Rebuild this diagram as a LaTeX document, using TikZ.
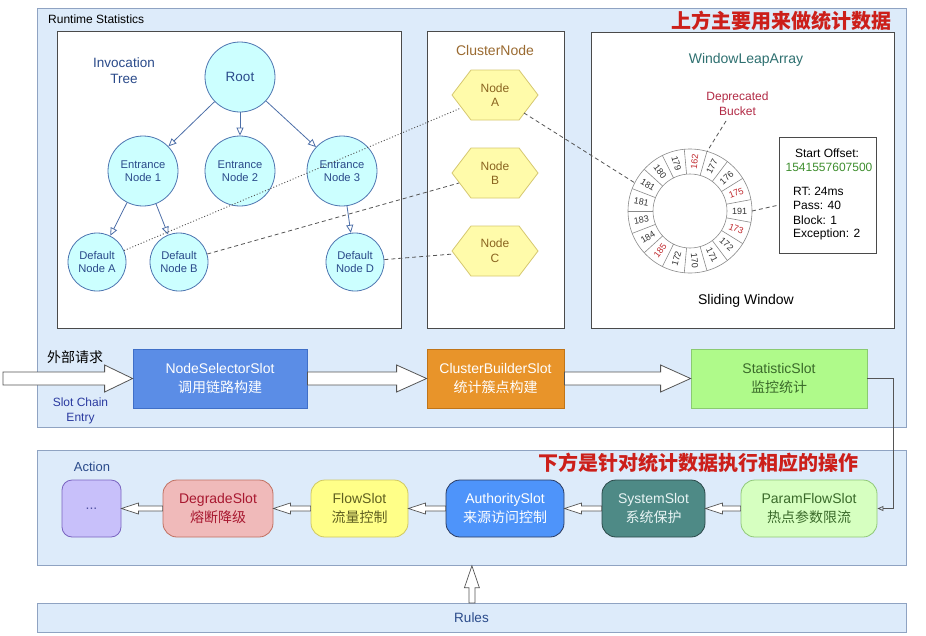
\documentclass[tikz,border=0pt]{standalone}
\usepackage{fontspec}
\setmainfont{Liberation Sans}
\newfontfamily\cjk{Noto Sans CJK SC}
\usetikzlibrary{arrows.meta,calc}
\newcommand\fs[2]{\fontsize{#1}{#2}\selectfont}
\definecolor{panelfill}{HTML}{DDEBFA}
\definecolor{panelstroke}{HTML}{8FA3C2}
\definecolor{boxstroke}{HTML}{4A4A4A}
\definecolor{treefill}{HTML}{CCFFFF}
\definecolor{treestroke}{HTML}{4D74B0}
\definecolor{treefg}{HTML}{2A4A8A}
\definecolor{treearrowc}{HTML}{4D6FA8}
\definecolor{hexfill}{HTML}{FFFBAA}
\definecolor{hexstroke}{HTML}{D6C870}
\definecolor{hexfg}{HTML}{8A6420}
\definecolor{clusterfg}{HTML}{9A6A30}
\definecolor{windowfg}{HTML}{2E7070}
\definecolor{depred}{HTML}{B22A45}
\definecolor{infogreen}{HTML}{3E8E2E}
\definecolor{ringred}{HTML}{C0282D}
\definecolor{ringblack}{HTML}{333333}
\definecolor{ringline}{HTML}{8A8A8A}
\definecolor{connc}{HTML}{555555}
\definecolor{headred}{HTML}{CC1F1A}
\definecolor{nssfill}{HTML}{5B8DE6}
\definecolor{nssstroke}{HTML}{3F6FC8}
\definecolor{cbsfill}{HTML}{E8942A}
\definecolor{cbsstroke}{HTML}{C07418}
\definecolor{stsfill}{HTML}{AFFA8A}
\definecolor{stsstroke}{HTML}{8ACB70}
\definecolor{greenfg}{HTML}{3A6A2A}
\definecolor{dotsfill}{HTML}{C8C0FA}
\definecolor{dotsstroke}{HTML}{7A64C0}
\definecolor{dotsfg}{HTML}{5050A0}
\definecolor{degfill}{HTML}{F0BABA}
\definecolor{degstroke}{HTML}{C07060}
\definecolor{degfg}{HTML}{A81830}
\definecolor{flowfill}{HTML}{FFFF88}
\definecolor{flowstroke}{HTML}{D0C860}
\definecolor{flowfg}{HTML}{606020}
\definecolor{authfill}{HTML}{4E94FA}
\definecolor{authstroke}{HTML}{2A3A60}
\definecolor{sysfill}{HTML}{4E8A86}
\definecolor{sysstroke}{HTML}{2A4848}
\definecolor{sysfg}{HTML}{E8F4F4}
\definecolor{pfsfill}{HTML}{D6FFC0}
\definecolor{pfsstroke}{HTML}{90C878}
\definecolor{bluefg}{HTML}{2A3AA0}
\newcommand\hollowR[6]{\draw[#6] let \p1=(#1), \p2=(#2) in
  (\x1,\y1+#3) -- (\x2-#5,\y1+#3) -- (\x2-#5,\y1+#4) -- (\x2,\y1) --
  (\x2-#5,\y1-#4) -- (\x2-#5,\y1-#3) -- (\x1,\y1-#3) -- cycle;}
\newcommand\hollowL[6]{\draw[#6] let \p1=(#1), \p2=(#2) in
  (\x1,\y1+#3) -- (\x2+#5,\y1+#3) -- (\x2+#5,\y1+#4) -- (\x2,\y1) --
  (\x2+#5,\y1-#4) -- (\x2+#5,\y1-#3) -- (\x1,\y1-#3) -- cycle;}
\newcommand\hollowU[6]{\draw[#6] let \p1=(#1), \p2=(#2) in
  (\x1+#3,\y1) -- (\x1+#3,\y2-#5) -- (\x1+#4,\y2-#5) -- (\x1,\y2) --
  (\x1-#4,\y2-#5) -- (\x1-#3,\y2-#5) -- (\x1-#3,\y1) -- cycle;}
\newcommand\hexat[1]{\draw[hexshape] ($(#1)+(-43,0)$) -- ($(#1)+(-24,-25)$) -- ($(#1)+(24,-25)$)
  -- ($(#1)+(43,0)$) -- ($(#1)+(24,25)$) -- ($(#1)+(-24,25)$) -- cycle;}
\tikzset{
  panel/.style={draw=panelstroke, fill=panelfill, line width=0.8pt, inner sep=0},
  wbox/.style={draw=boxstroke, fill=white, line width=0.8pt, inner sep=0},
  tnode/.style={circle, draw=treestroke, fill=treefill, line width=0.8pt, inner sep=0,
    text=treefg, align=center, font=\fs{11.2}{13.5}},
  tbig/.style={tnode, minimum size=70},
  tsmall/.style={tnode, minimum size=58},
  tarrow/.style={draw=treearrowc, line width=0.8pt, -{Triangle[open, length=8pt, width=7pt]}},
  hexshape/.style={draw=hexstroke, fill=hexfill, line width=0.8pt},
  hexlabel/.style={inner sep=0, text=hexfg, align=center, font=\fs{12}{14.6}},
  dashconn/.style={draw=connc, line width=0.8pt, dash pattern=on 4pt off 3pt},
  dotconn/.style={draw=connc, line width=0.9pt, dash pattern=on 1pt off 2pt},
  ringstroke/.style={draw=ringline, line width=0.6pt},
  ringlab/.style={inner sep=0, font=\fs{9}{10}},
  slotbox/.style={draw, line width=0.8pt, inner sep=0, align=center, font=\fs{14}{19}},
  rslot/.style={slotbox, rounded corners=14pt, minimum height=57},
  bigarrow/.style={draw=connc, fill=white, line width=0.8pt},
  smallarrow/.style={draw=connc, fill=white, line width=0.7pt},
  plain/.style={inner sep=0},
}
\begin{document}
\begin{tikzpicture}[x=1pt,y=-1pt]
\useasboundingbox (0,0) rectangle (926,635);
\fill[white] (0,0) rectangle (926,635);

% panels
\node[panel, anchor=north west, minimum width=869, minimum height=419] (top) at (37,8) {};
\node[panel, anchor=north west, minimum width=869, minimum height=115] (bot) at (37,450) {};
\node[panel, anchor=north west, minimum width=869, minimum height=29] (rules) at (37,603) {};
\node[plain, text=treefg, font=\fs{13.5}{16}] (rulestxt) at (471.5,618) {Rules};

\node[plain, anchor=west, font=\fs{12}{14}] (rt) at (48,19) {Runtime Statistics};
\node[plain, anchor=east, text=headred, font=\cjk\bfseries\fs{20}{24}] (h1) at (892,21) {上方主要用来做统计数据};

% white boxes
\node[wbox, anchor=north west, minimum width=344, minimum height=297] (treebox) at (57,31) {};
\node[wbox, anchor=north west, minimum width=137, minimum height=297] (clbox) at (427,31) {};
\node[wbox, anchor=north west, minimum width=303, minimum height=296] (winbox) at (591,32) {};

% invocation tree
\node[plain, text=treefg, align=center, font=\fs{13.5}{16}] (invt) at (124,71) {Invocation\\Tree};
\node[tbig, font=\fs{13.5}{16}] (root) at (240,77) {Root};
\node[tbig] (e1) at (143,171) {Entrance\\Node 1};
\node[tbig] (e2) at (240,171) {Entrance\\Node 2};
\node[tbig] (e3) at (342,171) {Entrance\\Node 3};
\node[tsmall] (da) at (97,262) {Default\\Node A};
\node[tsmall] (db) at (179,262) {Default\\Node B};
\node[tsmall] (dd) at (355,262) {Default\\Node D};
\draw[tarrow] (root) -- (e1);
\draw[tarrow] (root) -- (e2);
\draw[tarrow] (root) -- (e3);
\draw[tarrow] (e1) -- (da);
\draw[tarrow] (e1) -- (db);
\draw[tarrow] (e3) -- (dd);

% cluster nodes
\node[plain, text=clusterfg, font=\fs{14}{16}] (cltitle) at (495,50) {ClusterNode};
\coordinate (hAc) at (495,95);
\coordinate (hBc) at (495,173);
\coordinate (hCc) at (495,251);
\hexat{hAc}
\hexat{hBc}
\hexat{hCc}
\node[hexlabel] (hA) at (hAc) {Node\\A};
\node[hexlabel] (hB) at (hBc) {Node\\B};
\node[hexlabel] (hC) at (hCc) {Node\\C};
\coordinate (hAin) at ($(hAc)+(-34,13)$);
\coordinate (hAout) at ($(hAc)+(29,18)$);
\coordinate (hBin) at ($(hBc)+(-36,10)$);
\coordinate (hCin) at ($(hCc)+(-42,3)$);

% window leap array
\node[plain, text=windowfg, font=\fs{14}{16}] (wla) at (746,60) {WindowLeapArray};
\node[plain, text=depred, align=center, font=\fs{12}{15}] (dep) at (737.5,103.5) {Deprecated\\Bucket};
\node[plain, font=\fs{14}{16}] (sw) at (746,301) {Sliding Window};
\coordinate (rc) at (690,211);
\draw[ringstroke] (rc) circle[radius=62];
\draw[ringstroke] (rc) circle[radius=37];
\foreach \k in {0,...,16} {
  \draw[ringstroke] ($(rc)+({(\k+0.5)*360/17}:37)$) -- ($(rc)+({(\k+0.5)*360/17}:62)$);
}
\foreach \lab/\col [count=\k from 0] in {191/ringblack,175/ringred,176/ringblack,177/ringblack,162/ringred,179/ringblack,180/ringblack,181/ringblack,181/ringblack,183/ringblack,184/ringblack,185/ringred,172/ringblack,170/ringblack,171/ringblack,172/ringblack,173/ringred} {
  \pgfmathsetmacro\ang{\k*360/17}
  \pgfmathsetmacro\rot{cos(\ang)>-0.001 ? \ang : \ang-180}
  \node[ringlab, text=\col, rotate=\rot] at ($(rc)+(-\ang:49.5)$) {\lab};
}
\coordinate (ringA) at ($(rc)+(-153:62)$);
\coordinate (ringR) at ($(rc)+(0:62)$);
\coordinate (ringT) at ($(rc)+(-74:62)$);
\coordinate (depend) at (726,121);

% info box
\node[wbox, anchor=north west, minimum width=97, minimum height=116] (info) at (779,137) {};
\node[plain, font=\fs{12}{14}] (so) at (827,153) {Start Offset:};
\node[plain, text=infogreen, font=\fs{12}{14}] (sov) at (829,167) {1541557607500};
\node[plain, anchor=west, font=\fs{12}{14}] (i1) at (793,191) {RT: 24ms};
\node[plain, anchor=west, font=\fs{12}{14}] (i2) at (793,205) {Pass: 40};
\node[plain, anchor=west, font=\fs{12}{14}] (i3) at (793,220) {Block: 1};
\node[plain, anchor=west, font=\fs{12}{14}] (i4) at (793,234) {Exception: 2};
\coordinate (infoin) at (779,205);

% dashed connectors
\draw[dotconn] (da) -- (hAin);
\draw[dashconn] (db) -- (hBin);
\draw[dashconn] (dd) -- (hCin);
\draw[dashconn] (hAout) -- (ringA);
\draw[dashconn] (ringR) -- (infoin);
\draw[dashconn] (depend) -- (ringT);

% middle row
\node[plain, font=\cjk\fs{14}{16}] (ext) at (75,357) {外部请求};
\node[plain, text=bluefg, align=center, font=\fs{12}{15}] (sce) at (80.5,410.5) {Slot Chain\\Entry};
\node[slotbox, fill=nssfill, draw=nssstroke, text=white, minimum width=174, minimum height=59] (nss) at (220,378.5) {NodeSelectorSlot\\\cjk 调用链路构建};
\node[slotbox, fill=cbsfill, draw=cbsstroke, text=white, minimum width=137, minimum height=59] (cbs) at (495.5,378.5) {ClusterBuilderSlot\\\cjk 统计簇点构建};
\node[slotbox, fill=stsfill, draw=stsstroke, text=greenfg, minimum width=176, minimum height=59] (sts) at (779,378.5) {StatisticSlot\\\cjk 监控统计};
\coordinate (start) at (3,378.5);
\hollowR{start}{nss.west}{6.5pt}{13.5pt}{28pt}{bigarrow}
\hollowR{nss.east}{cbs.west}{6.5pt}{13.5pt}{30pt}{bigarrow}
\hollowR{cbs.east}{sts.west}{6.5pt}{13.5pt}{30pt}{bigarrow}

% bottom row
\node[plain, text=treefg, font=\fs{13}{16}] (act) at (92,467) {Action};
\node[plain, anchor=east, text=headred, font=\cjk\bfseries\fs{20}{24}] (h2) at (859,463) {下方是针对统计数据执行相应的操作};
\node[rslot, fill=dotsfill, draw=dotsstroke, text=dotsfg, minimum width=59, rounded corners=10pt] (dots) at (91.5,508.5) {...};
\node[rslot, fill=degfill, draw=degstroke, text=degfg, minimum width=110] (deg) at (218,508.5) {DegradeSlot\\\cjk 熔断降级};
\node[rslot, fill=flowfill, draw=flowstroke, text=flowfg, minimum width=97] (flow) at (359.5,508.5) {FlowSlot\\\cjk 流量控制};
\node[rslot, fill=authfill, draw=authstroke, text=white, minimum width=118] (auth) at (505,508.5) {AuthoritySlot\\\cjk 来源访问控制};
\node[rslot, fill=sysfill, draw=sysstroke, text=sysfg, minimum width=103] (sys) at (653.5,508.5) {SystemSlot\\\cjk 系统保护};
\node[rslot, fill=pfsfill, draw=pfsstroke, text=greenfg, minimum width=136] (pfs) at (809,508.5) {ParamFlowSlot\\\cjk 热点参数限流};
\hollowL{deg.west}{dots.east}{2.5pt}{5.5pt}{17pt}{smallarrow}
\hollowL{flow.west}{deg.east}{2.5pt}{5.5pt}{17pt}{smallarrow}
\hollowL{auth.west}{flow.east}{2.5pt}{5.5pt}{17pt}{smallarrow}
\hollowL{sys.west}{auth.east}{2.5pt}{5.5pt}{17pt}{smallarrow}
\hollowL{pfs.west}{sys.east}{2.5pt}{5.5pt}{17pt}{smallarrow}
\draw[draw=connc, line width=0.8pt, -{Triangle[open, length=6pt, width=5pt]}] (sts.east) -- ++(26,0) |- (pfs.east);

% rules arrow
\hollowU{rules.north}{bot.south}{3pt}{7.5pt}{22pt}{smallarrow}
\end{tikzpicture}
\end{document}
